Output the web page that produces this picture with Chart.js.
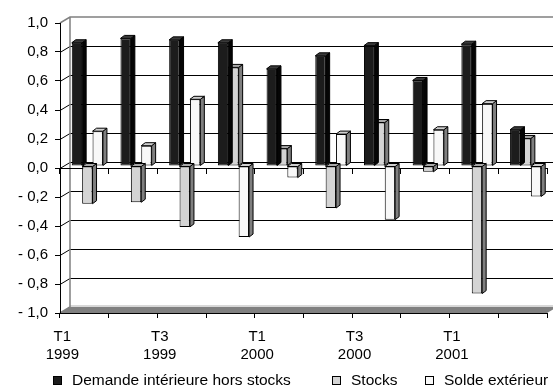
<!DOCTYPE html>
<html><head><meta charset="utf-8">
<script src="https://cdn.jsdelivr.net/npm/chart.js@4.4.1/dist/chart.umd.min.js"></script>
<style>
html,body{margin:0;padding:0;background:#fff;}
#wrap{position:relative;width:553px;height:387px;overflow:hidden;font-family:"Liberation Sans",Arial,sans-serif;}
#legend{position:absolute;left:0;top:371px;width:553px;height:18px;}
.li{position:absolute;top:0;height:18px;display:flex;align-items:center;font-size:15.5px;line-height:18px;color:#000;white-space:nowrap;}
.sw{width:7px;height:7px;border:1px solid #000;margin-right:10px;flex:none;}
</style></head><body>
<div id="wrap"><canvas id="c" width="553" height="387"></canvas><div id="legend"></div></div>
<script>
// ---- data ----
const categories = ['T1 1999','T2 1999','T3 1999','T4 1999','T1 2000','T2 2000','T3 2000','T4 2000','T1 2001','T2 2001'];
const tickLabels = [['T1','1999'],'',['T3','1999'],'',['T1','2000'],'',['T3','2000'],'',['T1','2001'],''];
const seriesNames = ['Demande intérieure hors stocks','Stocks','Solde extérieur'];
const demande = [0.85, 0.88, 0.87, 0.85, 0.67, 0.76, 0.83, 0.59, 0.84, 0.25];
const stocks  = [-0.26, -0.25, -0.42, 0.68, 0.12, -0.29, 0.30, -0.04, -0.88, 0.19];
const solde   = [0.24, 0.14, 0.46, -0.49, -0.08, 0.22, -0.37, 0.25, 0.43, -0.21];
const yMin = -1, yMax = 1, yStep = 0.2;

// ---- style ----
const FONT = '"Liberation Sans", Arial, sans-serif';
const frontColors = ['#1c1c1c', '#d4d4d4', '#f8f8f8'];
const sideColors  = ['#050505', '#7f7f7f', '#7f7f7f'];
const topColors   = ['#3a3a3a', '#a8a8a8', '#cfcfcf'];
const W = {wx: 10, wy: -6};   // wall depth
const B = {bx: 3, by: -2, ex: 4, ey: -3}; // bar placement / extrusion
const legendLeft = [53, 332, 425];

function fmt(v) {
  const r = Math.round(v * 10) / 10;
  if (Math.abs(r) < 1e-9) return '0,0';
  const s = Math.abs(r).toFixed(1).replace('.', ',');
  return r < 0 ? '- ' + s : s;
}

function poly(ctx, pts, fill) {
  ctx.beginPath();
  ctx.moveTo(pts[0][0], pts[0][1]);
  for (let i = 1; i < pts.length; i++) ctx.lineTo(pts[i][0], pts[i][1]);
  ctx.closePath();
  ctx.fillStyle = fill; ctx.fill();
  ctx.strokeStyle = '#000'; ctx.lineWidth = 1; ctx.stroke();
}

const threeD = {
  id: 'threeD',
  beforeDraw(chart) {
    const {ctx, chartArea: a, scales: {y}} = chart;
    ctx.save();
    ctx.fillStyle = '#fff';
    ctx.fillRect(0, 0, chart.width, chart.height);
    const yb = y.getPixelForValue(y.min);
    const yt = y.getPixelForValue(y.max);
    // floor
    ctx.beginPath();
    ctx.moveTo(a.left, yb); ctx.lineTo(a.left + W.wx, yb + W.wy);
    ctx.lineTo(a.right + W.wx, yb + W.wy); ctx.lineTo(a.right, yb); ctx.closePath();
    ctx.fillStyle = '#808080'; ctx.fill();
    ctx.strokeStyle = '#b0b0b0'; ctx.lineWidth = 1;
    ctx.beginPath(); ctx.moveTo(a.left + W.wx, yb + W.wy - 1); ctx.lineTo(a.right + W.wx, yb + W.wy - 1); ctx.stroke();
    // gridlines on left wall + back wall
    ctx.strokeStyle = '#000'; ctx.lineWidth = 1;
    y.ticks.forEach(t => {
      if (t.value >= y.max - 1e-9 || t.value <= y.min + 1e-9) return;
      const py = Math.round(y.getPixelForValue(t.value)) + 0.5;
      ctx.beginPath();
      ctx.moveTo(a.left, py); ctx.lineTo(a.left + W.wx, py + W.wy);
      ctx.lineTo(a.right + W.wx, py + W.wy);
      ctx.stroke();
    });
    // wall edges
    ctx.strokeStyle = '#808080'; ctx.lineWidth = 1.5;
    ctx.beginPath();
    ctx.moveTo(a.left, yt); ctx.lineTo(a.left + W.wx, yt + W.wy); ctx.lineTo(a.right + W.wx, yt + W.wy);
    ctx.moveTo(a.left + W.wx, yt + W.wy); ctx.lineTo(a.left + W.wx, yb + W.wy);
    ctx.moveTo(a.left, yb); ctx.lineTo(a.left + W.wx, yb + W.wy);
    ctx.stroke();
    ctx.restore();
  },
  beforeDatasetDraw(chart) {
    chart.ctx.save();
    chart.ctx.translate(B.bx, B.by);
  },
  afterDatasetDraw(chart, args) {
    const ctx = chart.ctx;
    const i = args.index;
    args.meta.data.forEach(bar => {
      const {x, y, base, width} = bar.getProps(['x', 'y', 'base', 'width'], true);
      const l = x - width / 2, r = x + width / 2;
      const t = Math.min(y, base), b = Math.max(y, base);
      poly(ctx, [[r, t], [r + B.ex, t + B.ey], [r + B.ex, b + B.ey], [r, b]], sideColors[i]);
      poly(ctx, [[l, t], [l + B.ex, t + B.ey], [r + B.ex, t + B.ey], [r, t]], topColors[i]);
    });
    ctx.restore();
  }
};

Chart.defaults.font.family = FONT;
Chart.defaults.font.size = 15;
Chart.defaults.color = '#000';

const seriesValues = [demande, stocks, solde];
const datasets = seriesValues.map((vals, i) => ({
  label: seriesNames[i],
  data: vals,
  xAxisID: 'x',
  yAxisID: 'y',
  backgroundColor: frontColors[i],
  borderColor: '#000',
  borderWidth: 1,
  borderSkipped: false,
  categoryPercentage: 0.64,
  barPercentage: 1.0,
  clip: false
}));

new Chart(document.getElementById('c'), {
  type: 'bar',
  data: {labels: categories, datasets},
  options: {
    responsive: false,
    animation: false,
    devicePixelRatio: 1,
    layout: {padding: {top: 23, right: 6, bottom: 23, left: 0}},
    plugins: {legend: {display: false}, tooltip: {enabled: false}},
    scales: {
      x: {
        type: 'category',
        position: 'bottom',
        offset: true,
        afterFit: s => { s.height = 51; },
        grid: {offset: true, drawOnChartArea: false, drawTicks: true, tickLength: 5, color: '#000'},
        border: {display: true, color: '#000', width: 1},
        ticks: {
          autoSkip: false, maxRotation: 0, minRotation: 0,
          padding: 10, labelOffset: -22,
          font: {size: 15}, color: '#000',
          callback: (v, i) => tickLabels[i]
        }
      },
      x2: {
        type: 'category',
        position: {y: 0},
        offset: true,
        grid: {offset: true, drawOnChartArea: false, drawTicks: true, tickLength: 5, color: '#000'},
        border: {display: true, color: '#000', width: 1},
        ticks: {display: false}
      },
      y: {
        position: 'left',
        min: yMin, max: yMax,
        afterFit: s => { s.width = 60; },
        grid: {drawOnChartArea: false, drawTicks: true, tickLength: 5, color: '#000'},
        border: {display: true, color: '#000', width: 1},
        ticks: {stepSize: yStep, padding: 7, font: {size: 15}, color: '#000', callback: v => fmt(v)}
      }
    }
  },
  plugins: [threeD]
});

// legend (HTML, built from the series)
const leg = document.getElementById('legend');
seriesNames.forEach((name, i) => {
  const item = document.createElement('div');
  item.className = 'li';
  item.style.left = legendLeft[i] + 'px';
  const sw = document.createElement('span');
  sw.className = 'sw';
  sw.style.background = frontColors[i];
  const tx = document.createElement('span');
  tx.textContent = name;
  item.appendChild(sw); item.appendChild(tx);
  leg.appendChild(item);
});
</script>
</body></html>
